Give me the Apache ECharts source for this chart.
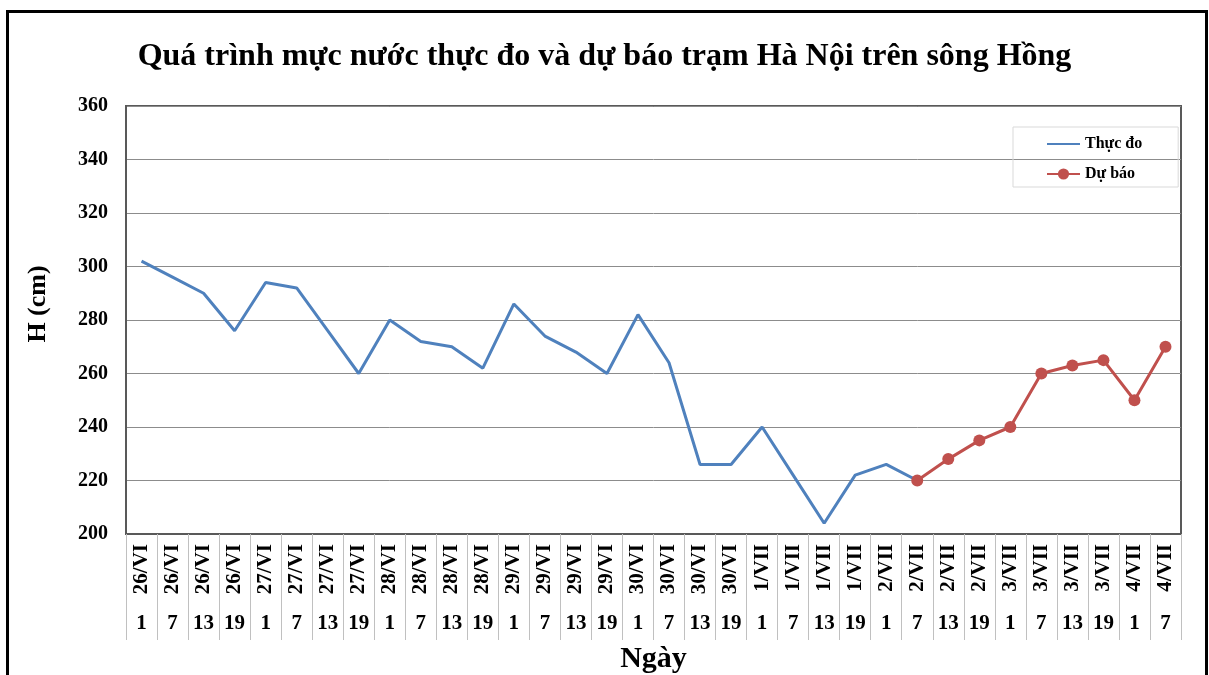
<!doctype html>
<html lang="vi" style="height: 100%">

<head>
  <meta charset="utf-8" />
  <script type="text/javascript" src="https://fastly.jsdelivr.net/npm/echarts@6.0.0/dist/echarts.min.js"></script>
</head>

<body style="height: 100%; margin: 0; background: #fff">
  <div id="main" style="width: 1209px; height: 675px"></div>
  <div style="position: absolute; left: 6px; top: 10px; width: 1202px; height: 700px; border: 3px solid #000; box-sizing: border-box; pointer-events: none"></div>
  <script type="text/javascript">
    // nhãn trục hoành: ngày và giờ
    var dates = ['26/VI', '26/VI', '26/VI', '26/VI', '27/VI', '27/VI', '27/VI', '27/VI',
      '28/VI', '28/VI', '28/VI', '28/VI', '29/VI', '29/VI', '29/VI', '29/VI',
      '30/VI', '30/VI', '30/VI', '30/VI', '1/VII', '1/VII', '1/VII', '1/VII',
      '2/VII', '2/VII', '2/VII', '2/VII', '3/VII', '3/VII', '3/VII', '3/VII',
      '4/VII', '4/VII'];
    var hours = ['1', '7', '13', '19', '1', '7', '13', '19', '1', '7', '13', '19',
      '1', '7', '13', '19', '1', '7', '13', '19', '1', '7', '13', '19',
      '1', '7', '13', '19', '1', '7', '13', '19', '1', '7'];

    // mực nước (cm)
    var thucDo = [302, 296, 290, 276, 294, 292, 276, 260, 280, 272, 270, 262,
      286, 274, 268, 260, 282, 264, 226, 226, 240, 222, 204, 222, 226, 220,
      null, null, null, null, null, null, null, null];
    var duBao = [null, null, null, null, null, null, null, null, null, null, null, null,
      null, null, null, null, null, null, null, null, null, null, null, null, null,
      220, 228, 235, 240, 260, 263, 265, 250, 270];

    var serif = '"Liberation Serif", "Times New Roman", serif';
    var myChart = echarts.init(document.getElementById('main'));

    var option = {
      backgroundColor: '#fff',
      animation: false,
      title: {
        text: 'Quá trình mực nước thực đo và dự báo trạm Hà Nội trên sông Hồng',
        left: 'center',
        top: 36,
        textStyle: { fontFamily: serif, fontWeight: 'bold', fontSize: 32, color: '#000' }
      },
      graphic: [
        {
          type: 'text',
          x: 38,
          y: 304,
          rotation: Math.PI / 2,
          style: {
            text: 'H (cm)',
            fontFamily: serif,
            fontWeight: 'bold',
            fontSize: 26,
            fill: '#000',
            align: 'center',
            verticalAlign: 'middle'
          }
        }
      ],
      legend: {
        orient: 'vertical',
        left: 1013,
        top: 127,
        padding: [9, 36, 5, 33],
        itemGap: 14,
        itemWidth: 33,
        itemHeight: 14,
        borderColor: '#d9d9d9',
        borderWidth: 1,
        textStyle: { fontFamily: serif, fontWeight: 'bold', fontSize: 16, color: '#000' },
        data: [{ name: 'Thực đo', itemStyle: { opacity: 0 } }, 'Dự báo']
      },
      grid: {
        left: 126,
        right: 28,
        top: 106,
        bottom: 141,
        outerBoundsMode: 'none',
        show: true,
        borderColor: '#595959',
        borderWidth: 2
      },
      xAxis: [
        {
          type: 'category',
          data: dates,
          boundaryGap: true,
          axisLine: { lineStyle: { color: '#595959', width: 2 } },
          axisTick: { show: true, interval: 0, length: 106, lineStyle: { color: '#c0c0c0', width: 1 } },
          axisLabel: {
            interval: 0,
            rotate: 90,
            margin: 10,
            fontFamily: serif,
            fontWeight: 'bold',
            fontSize: 21,
            color: '#000'
          },
          name: 'Ngày',
          nameLocation: 'middle',
          nameGap: 110,
          nameTextStyle: { fontFamily: serif, fontWeight: 'bold', fontSize: 30, color: '#000' }
        },
        {
          type: 'category',
          data: hours,
          position: 'bottom',
          offset: 0,
          axisLine: { show: false },
          axisTick: { show: false },
          axisLabel: {
            interval: 0,
            margin: 79,
            fontFamily: serif,
            fontWeight: 'bold',
            fontSize: 21,
            color: '#000'
          }
        }
      ],
      yAxis: {
        type: 'value',
        min: 200,
        max: 360,
        interval: 20,
        axisLine: { show: true, lineStyle: { color: '#595959', width: 2 } },
        axisTick: { show: false },
        splitLine: { lineStyle: { color: '#8c8c8c' } },
        axisLabel: { margin: 18, fontFamily: serif, fontWeight: 'bold', fontSize: 20, color: '#000' }
      },
      series: [
        {
          name: 'Thực đo',
          type: 'line',
          data: thucDo,
          symbol: 'none',
          color: '#4f81bd',
          lineStyle: { width: 3 }
        },
        {
          name: 'Dự báo',
          type: 'line',
          data: duBao,
          symbol: 'circle',
          symbolSize: 12,
          color: '#c0504d',
          lineStyle: { width: 3 }
        }
      ]
    };
    myChart.setOption(option);
  </script>
</body>

</html>
